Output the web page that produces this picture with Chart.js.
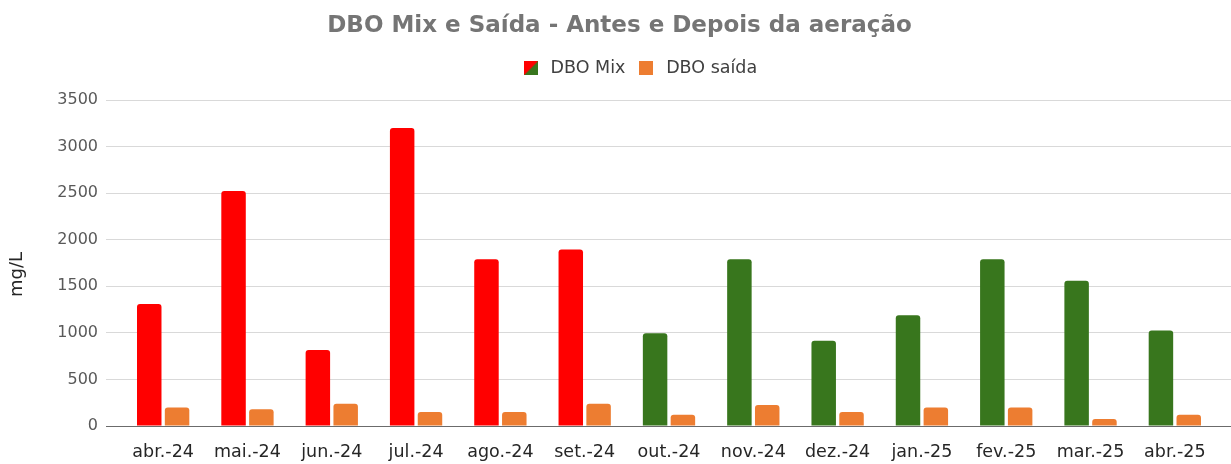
<!DOCTYPE html>
<html>
<head>
<meta charset="utf-8">
<script src="https://cdn.jsdelivr.net/npm/chart.js@4.4.1/dist/chart.umd.min.js"></script>
<style>
  html, body { margin: 0; padding: 0; background: #ffffff; }
  #wrap { width: 1231px; height: 464px; }
</style>
</head>
<body>
<div id="wrap"><canvas id="c" width="1231" height="464"></canvas></div>
<script>
const categories = ['abr.-24','mai.-24','jun.-24','jul.-24','ago.-24','set.-24','out.-24','nov.-24','dez.-24','jan.-25','fev.-25','mar.-25','abr.-25'];
const dboMix = [1310, 2525, 815, 3200, 1790, 1895, 995, 1790, 915, 1190, 1790, 1560, 1025];
const dboSaida = [200, 180, 240, 150, 150, 240, 120, 225, 150, 200, 200, 75, 120];
const seriesNames = ['DBO Mix', 'DBO saída'];
const yMin = 0, yMax = 3500, yStep = 500;
const aerationStartIndex = 6;

const RED = '#ff0000', GREEN = '#38761d', ORANGE = '#ed7d31';
const mixColors = categories.map((_, i) => i < aerationStartIndex ? RED : GREEN);

function makeSwatch(kind) {
  const s = 14;
  const cv = document.createElement('canvas');
  cv.width = s; cv.height = s;
  const g = cv.getContext('2d');
  if (kind === 'mix') {
    g.fillStyle = GREEN; g.fillRect(0, 0, s, s);
    g.fillStyle = RED;
    g.beginPath(); g.moveTo(0, 0); g.lineTo(s, 0); g.lineTo(0, s); g.closePath(); g.fill();
  } else {
    g.fillStyle = ORANGE; g.fillRect(0, 0, s, s);
  }
  return cv;
}
const swatches = [makeSwatch('mix'), makeSwatch('saida')];

const FONT = "'DejaVu Sans', sans-serif";

const boxTweaks = {
  id: 'boxTweaks',
  beforeInit(chart) {
    const origFit = chart.legend.fit;
    chart.legend.fit = function () {
      origFit.bind(chart.legend)();
      this.height += 13;
    };
  },
  afterLayout(chart) {
    const lg = chart.legend;
    lg.left += 23; lg.right += 23;
    const tt = chart.titleBlock;
    if (tt) { tt.left += 4; tt.right += 4; }
  }
};

new Chart(document.getElementById('c'), {
  type: 'bar',
  data: {
    labels: categories,
    datasets: [
      { label: seriesNames[0], data: dboMix, backgroundColor: mixColors,
        borderRadius: { topLeft: 3, topRight: 3 }, borderSkipped: 'start',
        categoryPercentage: 0.66, barPercentage: 0.88 },
      { label: seriesNames[1], data: dboSaida, backgroundColor: ORANGE,
        borderRadius: { topLeft: 3, topRight: 3 }, borderSkipped: 'start',
        categoryPercentage: 0.66, barPercentage: 0.88 }
    ]
  },
  options: {
    responsive: false,
    animation: false,
    devicePixelRatio: 1,
    layout: { padding: { left: 0, right: 0, top: 0, bottom: 0 } },
    plugins: {
      title: {
        display: true,
        text: 'DBO Mix e Saída - Antes e Depois da aeração',
        color: '#757575',
        font: { family: FONT, size: 23, weight: 'bold' },
        padding: { top: 12, bottom: 10 }
      },
      legend: {
        display: true,
        position: 'top',
        labels: {
          color: '#404040',
          font: { family: FONT, size: 17.5 },
          usePointStyle: true,
          pointStyleWidth: 22,
          boxWidth: 14,
          boxHeight: 14,
          padding: 10,
          generateLabels(chart) {
            return chart.data.datasets.map((ds, i) => ({
              text: ds.label,
              fillStyle: i === 0 ? RED : ORANGE,
              strokeStyle: 'transparent',
              lineWidth: 0,
              pointStyle: swatches[i],
              datasetIndex: i,
              hidden: false,
              fontColor: '#404040'
            }));
          }
        }
      },
      tooltip: { enabled: false }
    },
    scales: {
      x: {
        grid: { display: false, drawTicks: false },
        border: { display: false },
        ticks: { color: '#262626', font: { family: FONT, size: 17.5 }, padding: 16, maxRotation: 0, autoSkip: false },
        afterFit(scale) { scale.height = 38; }
      },
      y: {
        position: 'left',
        min: yMin, max: yMax,
        grid: {
          color: ctx => (ctx.tick && ctx.tick.value === 0) ? '#6b6b6b' : '#d9d9d9',
          tickColor: ctx => (ctx.tick && ctx.tick.value === 0) ? '#6b6b6b' : '#d9d9d9',
          tickLength: 15,
          lineWidth: 1
        },
        border: { display: false },
        ticks: { stepSize: yStep, color: '#595959', font: { family: FONT, size: 16 }, padding: 8,
                 callback: v => String(v) },
        title: { display: true, text: 'mg/L    ', color: '#262626', font: { family: FONT, size: 18 }, padding: { top: 7, bottom: 0 } },
        afterFit(scale) { scale.width = 121; }
      },
      y2: {
        position: 'right',
        min: yMin, max: yMax,
        grid: {
          drawOnChartArea: false,
          color: ctx => (ctx.tick && ctx.tick.value === 0) ? '#6b6b6b' : '#d9d9d9',
          tickColor: ctx => (ctx.tick && ctx.tick.value === 0) ? '#6b6b6b' : '#d9d9d9',
          tickLength: 14
        },
        border: { display: false },
        ticks: { stepSize: yStep, display: false },
        afterFit(scale) { scale.width = 14; }
      }
    }
  },
  plugins: [boxTweaks]
});
</script>
</body>
</html>
